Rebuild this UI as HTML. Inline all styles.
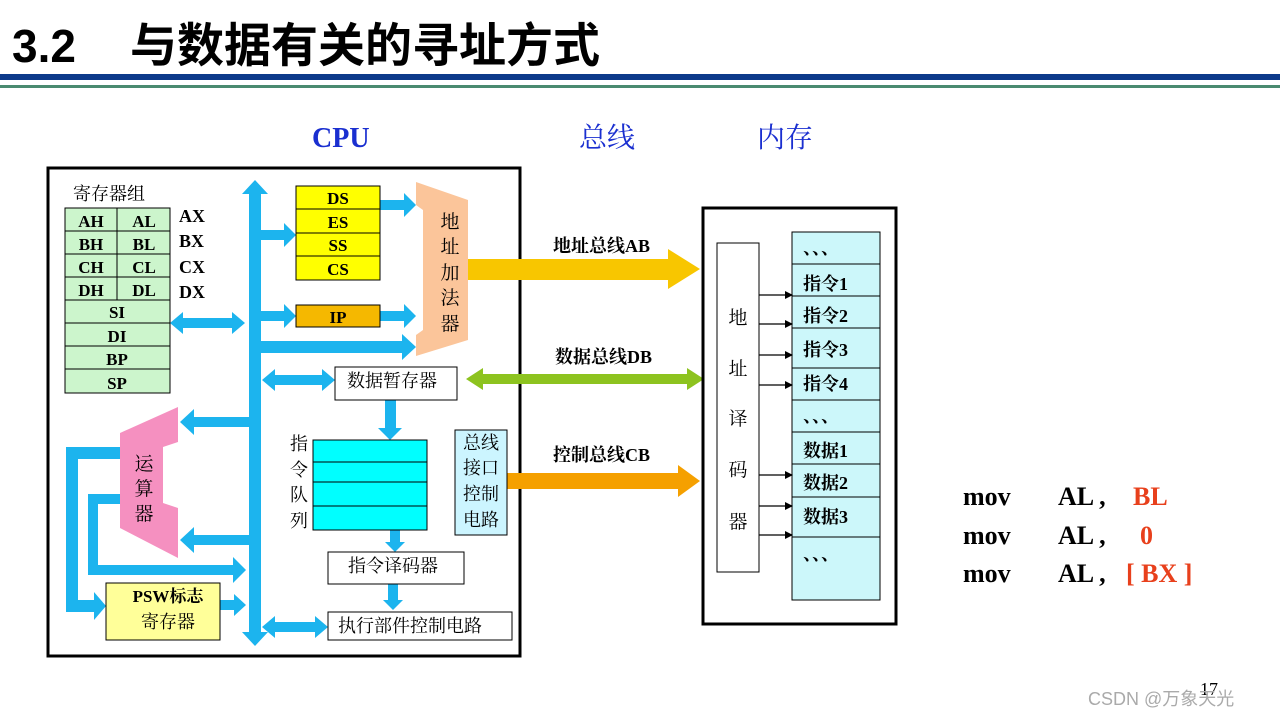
<!DOCTYPE html>
<html><head><meta charset="utf-8"><style>
html,body{margin:0;padding:0;background:#fff;width:1280px;height:720px;overflow:hidden}
svg{display:block}
.s{font-family:"Liberation Serif","Noto Serif CJK SC",serif;font-weight:bold}
.c{font-family:"Liberation Serif","Noto Serif CJK SC",serif}
</style></head><body>
<svg width="1280" height="720" viewBox="0 0 1280 720" xmlns="http://www.w3.org/2000/svg">
<defs>
<marker id="ah" markerWidth="8" markerHeight="8" refX="7" refY="4" orient="auto" markerUnits="userSpaceOnUse"><path d="M0,0 L8,4 L0,8 z" fill="#000"/></marker>
</defs>
<!-- title -->
<text x="12" y="62" font-family="Liberation Sans,sans-serif" font-weight="bold" font-size="46">3.2</text>
<text x="130" y="62" font-family="Liberation Sans,'Noto Sans CJK SC',sans-serif" font-weight="bold" font-size="47">与数据有关的寻址方式</text>
<rect x="0" y="74" width="1280" height="6" fill="#0d3a8a"/>
<rect x="0" y="85" width="1280" height="3" fill="#4a8a70"/>
<!-- headers -->
<g class="s" fill="#1a2fd0" font-size="28">
<text x="312" y="147">CPU</text>
<text x="579" y="147" font-weight="normal">总线</text>
<text x="757" y="147" font-weight="normal">内存</text>
</g>
<!-- CPU box -->
<rect x="48" y="168" width="472" height="488" fill="#fff" stroke="#000" stroke-width="3"/>
<!-- main bus -->
<polygon points="255,180 268,194 261,194 261,632 268,632 255,646 242,632 249,632 249,194 242,194" fill="#1cb4ee"/>
<g fill="#1cb4ee">
<!-- to DS block -->
<polygon points="261,230 284,230 284,223 296,235 284,247 284,240 261,240"/>
<!-- to IP -->
<polygon points="261,311 284,311 284,304 296,316 284,328 284,321 261,321"/>
<!-- DS->adder -->
<polygon points="380,200 404,200 404,193 416,205 404,217 404,210 380,210"/>
<polygon points="380,311 404,311 404,304 416,316 404,328 404,321 380,321"/>
<!-- bus->adder -->
<polygon points="261,341 402,341 402,334 416,347 402,360 402,353 261,353"/>
<!-- regs <-> bus -->
<polygon points="170,323 183,312 183,318 232,318 232,312 245,323 232,334 232,328 183,328 183,334"/>
<!-- bus <-> data temp -->
<polygon points="262,380 275,369 275,375 322,375 322,369 335,380 322,391 322,385 275,385 275,391"/>
<!-- bus <-> exec -->
<polygon points="262,627 275,616 275,622 315,622 315,616 328,627 315,638 315,632 275,632 275,638"/>
<!-- bus -> ALU top / bottom -->
<polygon points="249,417 194,417 194,409 180,422 194,435 194,427 249,427"/>
<polygon points="249,535 194,535 194,527 180,540 194,553 194,545 249,545"/>
<!-- data temp -> queue -->
<polygon points="385,400 396,400 396,428 402,428 390,440 378,428 385,428"/>
<polygon points="390,530 400,530 400,542 405,542 395,552 385,542 390,542"/>
<polygon points="388,584 398,584 398,600 403,600 393,610 383,600 388,600"/>
<!-- feedback loops -->
<polygon points="120,447 66,447 66,612 94,612 94,620 106,606 94,592 94,600 78,600 78,459 120,459"/>
<polygon points="120,494 88,494 88,575 233,575 233,583 246,570 233,557 233,565 98,565 98,504 120,504"/>
<!-- PSW -> bus -->
<polygon points="220,600 234,600 234,594 246,605 234,616 234,610 220,610"/>
</g>
<!-- registers -->
<text x="73" y="200" class="c" font-size="18">寄存器组</text>
<g stroke="#000" stroke-width="1" fill="#ccf5cc">
<rect x="65" y="208" width="52" height="23"/><rect x="117" y="208" width="53" height="23"/>
<rect x="65" y="231" width="52" height="23"/><rect x="117" y="231" width="53" height="23"/>
<rect x="65" y="254" width="52" height="23"/><rect x="117" y="254" width="53" height="23"/>
<rect x="65" y="277" width="52" height="23"/><rect x="117" y="277" width="53" height="23"/>
<rect x="65" y="300" width="105" height="23"/><rect x="65" y="323" width="105" height="23"/>
<rect x="65" y="346" width="105" height="23"/><rect x="65" y="369" width="105" height="24"/>
</g>
<g class="s" font-size="17" text-anchor="middle">
<text x="91" y="227">AH</text><text x="144" y="227">AL</text>
<text x="91" y="250">BH</text><text x="144" y="250">BL</text>
<text x="91" y="273">CH</text><text x="144" y="273">CL</text>
<text x="91" y="296">DH</text><text x="144" y="296">DL</text>
<text x="117" y="318">SI</text><text x="117" y="342">DI</text>
<text x="117" y="365">BP</text><text x="117" y="389">SP</text>
</g>
<g class="s" font-size="18">
<text x="179" y="222">AX</text><text x="179" y="247">BX</text>
<text x="179" y="273">CX</text><text x="179" y="298">DX</text>
</g>
<!-- segment regs -->
<g stroke="#000" stroke-width="1" fill="#ffff00">
<rect x="296" y="186" width="84" height="23"/><rect x="296" y="209" width="84" height="24"/>
<rect x="296" y="233" width="84" height="23"/><rect x="296" y="256" width="84" height="24"/>
</g>
<rect x="296" y="305" width="84" height="22" fill="#f5b800" stroke="#000"/>
<g class="s" font-size="17" text-anchor="middle">
<text x="338" y="204">DS</text><text x="338" y="228">ES</text>
<text x="338" y="251">SS</text><text x="338" y="275">CS</text>
<text x="338" y="323">IP</text>
</g>
<!-- adder -->
<polygon points="416,182 468,200 468,340 416,356 416,335 423,330 423,210 416,205" fill="#fbc59a"/>
<g class="c" font-size="19" text-anchor="middle"><text x="450" y="228">地</text><text x="450" y="253">址</text><text x="450" y="279">加</text><text x="450" y="304">法</text><text x="450" y="330">器</text></g>
<!-- buses -->
<polygon points="468,259 668,259 668,249 700,269 668,289 668,280 468,280" fill="#f8c600"/>
<polygon points="466,379 483,368 483,374 687,374 687,368 704,379 687,390 687,384 483,384 483,390" fill="#8dc31f"/>
<polygon points="468,481 490,465 490,473 678,473 678,465 700,481 678,497 678,489 490,489 490,497" fill="#f5a000"/>
<g class="s" font-size="18">
<text x="553" y="252">地址总线AB</text>
<text x="555" y="363">数据总线DB</text>
<text x="553" y="461">控制总线CB</text>
</g>
<!-- data temp -->
<rect x="335" y="367" width="122" height="33" fill="#fff" stroke="#000"/>
<text x="347" y="387" class="c" font-size="18">数据暂存器</text>
<!-- queue -->
<g stroke="#000" fill="#00ffff">
<rect x="313" y="440" width="114" height="22"/><rect x="313" y="462" width="114" height="20"/>
<rect x="313" y="482" width="114" height="24"/><rect x="313" y="506" width="114" height="24"/>
</g>
<g class="c" font-size="18" text-anchor="middle"><text x="299" y="450">指</text><text x="299" y="476">令</text><text x="299" y="501">队</text><text x="299" y="527">列</text></g>
<rect x="455" y="430" width="52" height="105" fill="#ccf5ff" stroke="#000"/>
<g class="c" font-size="18" text-anchor="middle"><text x="481" y="449">总线</text><text x="481" y="474">接口</text><text x="481" y="500">控制</text><text x="481" y="526">电路</text></g>
<rect x="328" y="552" width="136" height="32" fill="#fff" stroke="#000"/>
<text x="348" y="572" class="c" font-size="18">指令译码器</text>
<rect x="328" y="612" width="184" height="28" fill="#fff" stroke="#000"/>
<text x="338" y="632" class="c" font-size="18">执行部件控制电路</text>
<!-- ALU -->
<polygon points="120,433 178,407 178,442 163,447 163,503 178,508 178,558 120,528" fill="#f590c0"/>
<g class="c" font-size="19" text-anchor="middle"><text x="144" y="470">运</text><text x="144" y="495">算</text><text x="144" y="520">器</text></g>
<!-- PSW -->
<rect x="106" y="583" width="114" height="57" fill="#ffff99" stroke="#000"/>
<text x="168" y="602" class="s" font-size="17" text-anchor="middle">PSW标志</text>
<text x="168" y="628" class="c" font-size="18" text-anchor="middle">寄存器</text>
<!-- memory -->
<rect x="703" y="208" width="193" height="416" fill="#fff" stroke="#000" stroke-width="3"/>
<rect x="717" y="243" width="42" height="329" fill="#fff" stroke="#000"/>
<g class="c" font-size="19" text-anchor="middle"><text x="738" y="324">地</text><text x="738" y="375">址</text><text x="738" y="425">译</text><text x="738" y="476">码</text><text x="738" y="528">器</text></g>
<g stroke="#000" fill="#ccf7fa">
<rect x="792" y="232" width="88" height="32"/><rect x="792" y="264" width="88" height="32"/>
<rect x="792" y="296" width="88" height="32"/><rect x="792" y="328" width="88" height="40"/>
<rect x="792" y="368" width="88" height="32"/><rect x="792" y="400" width="88" height="32"/>
<rect x="792" y="432" width="88" height="32"/><rect x="792" y="464" width="88" height="33"/>
<rect x="792" y="497" width="88" height="40"/><rect x="792" y="537" width="88" height="63"/>
</g>
<g class="s" font-size="18">
<text x="803" y="254">、、、</text>
<text x="803" y="290">指令1</text><text x="803" y="322">指令2</text>
<text x="803" y="356">指令3</text><text x="803" y="390">指令4</text>
<text x="803" y="422">、、、</text>
<text x="803" y="457">数据1</text><text x="803" y="489">数据2</text>
<text x="803" y="523">数据3</text><text x="803" y="560">、、、</text>
</g>
<g stroke="#000" stroke-width="1.3" marker-end="url(#ah)">
<line x1="759" y1="295" x2="792" y2="295"/><line x1="759" y1="324" x2="792" y2="324"/>
<line x1="759" y1="355" x2="792" y2="355"/><line x1="759" y1="385" x2="792" y2="385"/>
<line x1="759" y1="475" x2="792" y2="475"/><line x1="759" y1="506" x2="792" y2="506"/>
<line x1="759" y1="535" x2="792" y2="535"/>
</g>
<!-- instructions -->
<g class="s" font-size="26">
<text x="963" y="505">mov</text><text x="1058" y="505">AL ,</text><text x="1133" y="505" fill="#e8401c">BL</text>
<text x="963" y="544">mov</text><text x="1058" y="544">AL ,</text><text x="1140" y="544" fill="#e8401c">0</text>
<text x="963" y="582">mov</text><text x="1058" y="582">AL ,</text><text x="1126" y="582" fill="#e8401c">[ BX ]</text>
</g>
<text x="1200" y="695" class="c" font-size="18">17</text>
<text x="1088" y="705" font-family="Liberation Sans,'Noto Sans CJK SC',sans-serif" font-size="18" fill="#aaa">CSDN @万象天光</text>
</svg>
</body></html>
